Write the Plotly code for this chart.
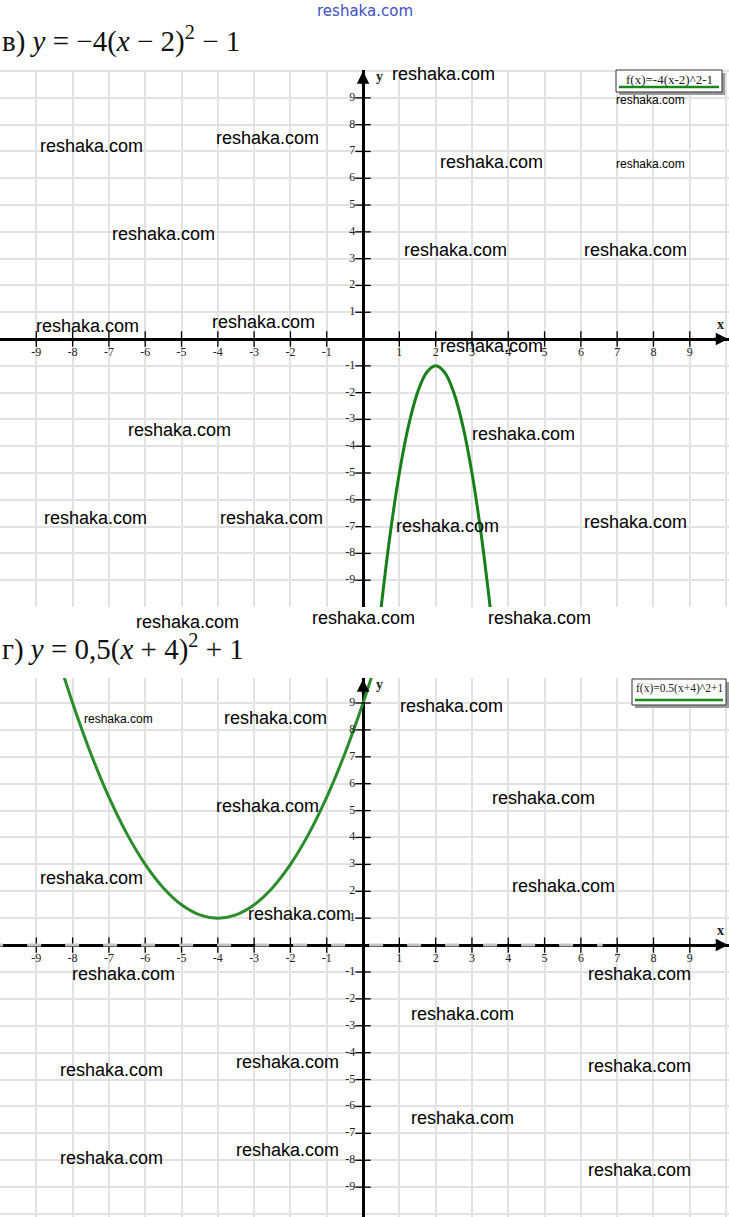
import plotly.graph_objects as go

W, H = 729, 1217

# в) y = -4(x-2)^2 - 1  (points read off the drawn curve)
top_x = [0.4, 0.5, 0.75, 1.0, 1.25, 1.5, 1.75, 2.0, 2.25, 2.5, 2.75, 3.0, 3.25, 3.5, 3.6]
top_y = [-11.24, -10.0, -7.25, -5.0, -3.25, -2.0, -1.25, -1.0, -1.25, -2.0, -3.25, -5.0, -7.25, -10.0, -11.24]

# г) y = 0.5(x+4)^2 + 1
bot_x = [-8.3, -8, -7.5, -7, -6.5, -6, -5.5, -5, -4.5, -4, -3.5, -3, -2.5, -2, -1.5, -1, -0.5, 0, 0.3]
bot_y = [10.25, 9, 7.125, 5.5, 4.125, 3, 2.125, 1.5, 1.125, 1, 1.125, 1.5, 2.125, 3, 4.125, 5.5, 7.125, 9, 10.25]

tick_vals = [-9, -8, -7, -6, -5, -4, -3, -2, -1, 1, 2, 3, 4, 5, 6, 7, 8, 9]
tick_text = [str(v) for v in tick_vals]

titles = ["в) <i>y</i> = −4(<i>x</i> − 2)<sup>2</sup> − 1",
          "г) <i>y</i> = 0,5(<i>x</i> + 4)<sup>2</sup> + 1"]
legend_text = ["f(x)=-4(x-2)^2-1", "f(x)=0.5(x+4)^2+1"]

# watermark positions in pixels (x, y, font size)
marks = [
    (443, 74, 18), (91, 146, 18), (267, 138, 18), (491, 162, 18), (650, 100, 12), (650, 164, 12),
    (163, 234, 18), (455, 250, 18), (635, 250, 18), (87, 326, 18), (263, 322, 18), (491, 346, 18),
    (179, 430, 18), (523, 434, 18), (95, 518, 18), (271, 518, 18), (447, 526, 18), (635, 522, 18),
    (187, 622, 18), (363, 618, 18), (539, 618, 18),
    (118, 719, 12), (275, 718, 18), (451, 706, 18), (267, 806, 18), (543, 798, 18), (91, 878, 18),
    (299, 914, 18), (563, 886, 18), (123, 974, 18), (639, 974, 18), (463, 1014, 18), (287, 1062, 18),
    (111, 1070, 18), (639, 1066, 18), (463, 1118, 18), (287, 1150, 18), (111, 1158, 18), (639, 1170, 18),
]


def px(x, y):
    return x / W, 1 - y / H


GREEN = "#1c861c"
SERIF = "Liberation Serif, Times New Roman, serif"
SANS = "Liberation Sans, Arial, sans-serif"

# panel boxes in pixels: top, bottom
panels = [(70, 607), (678, 1217)]
yranges = [[-10.0, 10.04], [-10.11, 9.93]]
xrange_ = [-10.0, 10.08]

fig = go.Figure()

curves = [(top_x, top_y, "#17801a"), (bot_x, bot_y, "#2a8c2a")]
for i, (cx, cy, col) in enumerate(curves):
    xa = "x" if i == 0 else "x2"
    ya = "y" if i == 0 else "y2"
    fig.add_trace(go.Scatter(x=cx, y=cy, mode="lines", line=dict(color=col, width=3, shape="spline"),
                             xaxis=xa, yaxis=ya, hoverinfo="skip"))
    # axis ticks + labels
    fig.add_trace(go.Scatter(x=tick_vals, y=[0] * len(tick_vals), mode="markers+text", text=tick_text,
                             textposition="bottom center", textfont=dict(family=SERIF, size=12, color="#222"),
                             marker=dict(symbol="line-ns", size=11, line=dict(width=1.3, color="black")),
                             xaxis=xa, yaxis=ya, hoverinfo="skip"))
    fig.add_trace(go.Scatter(x=[0] * len(tick_vals), y=tick_vals, mode="markers+text", text=tick_text,
                             textposition="middle left", textfont=dict(family=SERIF, size=12, color="#222"),
                             marker=dict(symbol="line-ew", size=11, line=dict(width=1.3, color="black")),
                             xaxis=xa, yaxis=ya, hoverinfo="skip"))

axis_common = dict(showgrid=True, gridcolor="#e2e2e2", gridwidth=1.5, dtick=1, tick0=0,
                   zeroline=True, zerolinecolor="black", zerolinewidth=2.5,
                   showticklabels=False, ticks="", showline=False, fixedrange=True)

layout = dict(width=W, height=H, margin=dict(l=0, r=0, t=0, b=0), showlegend=False,
              plot_bgcolor="white", paper_bgcolor="white")
for i, (top, bot) in enumerate(panels):
    sfx = "" if i == 0 else "2"
    layout["xaxis" + sfx] = dict(domain=[0, 1], range=xrange_, anchor="y" + sfx, **axis_common)
    layout["yaxis" + sfx] = dict(domain=[1 - bot / H, 1 - top / H], range=yranges[i], anchor="x" + sfx,
                                 **axis_common)
fig.update_layout(**layout)

# bottom panel x axis looks broken into dashes: light gaps over the black line
fig.add_shape(type="line", xref="x2", yref="y2", x0=-10.3, x1=6.6, y0=0, y1=0, layer="above",
              line=dict(color="#c4c4c4", width=3, dash="14px,24px"))

ann = []
for i in range(2):
    sfx = "" if i == 0 else "2"
    # axis arrows
    ann.append(dict(xref="x" + sfx, yref="y" + sfx, x=10.06, y=0, ax=-16, ay=0, text="",
                    showarrow=True, arrowhead=2, arrowsize=1, arrowwidth=2.5, arrowcolor="black"))
    ann.append(dict(xref="x" + sfx, yref="y" + sfx, x=0, y=yranges[i][1] - 0.05, ax=0, ay=16, text="",
                    showarrow=True, arrowhead=2, arrowsize=1, arrowwidth=2.5, arrowcolor="black"))
    ann.append(dict(xref="x" + sfx, yref="y" + sfx, x=0.45, y=yranges[i][1] - 0.25, text="<b>y</b>",
                    xanchor="center", yanchor="middle",
                    showarrow=False, font=dict(family=SERIF, size=14, color="#222")))
    ann.append(dict(xref="x" + sfx, yref="y" + sfx, x=9.85, y=0.55, text="<b>x</b>",
                    xanchor="center", yanchor="middle",
                    showarrow=False, font=dict(family=SERIF, size=14, color="#222")))
    # title
    tx, ty = px(0, 40 if i == 0 else 647)
    ann.append(dict(xref="paper", yref="paper", x=tx, y=ty, xanchor="left", yanchor="middle",
                    text=titles[i], showarrow=False, font=dict(family=SERIF, size=29, color="#111")))

# legend boxes
leg_boxes = [(616, 70, 722, 92), (632, 679, 726, 705)]
leg_sizes = [13, 11.5]
for i, (x0, y0, x1, y1) in enumerate(leg_boxes):
    fig.add_shape(type="rect", xref="paper", yref="paper", x0=(x0 + 3) / W, x1=(x1 + 3) / W,
                  y0=1 - (y1 + 3) / H, y1=1 - (y0 + 3) / H, line=dict(width=0), fillcolor="#9a9a9a")
    fig.add_shape(type="rect", xref="paper", yref="paper", x0=x0 / W, x1=x1 / W,
                  y0=1 - y1 / H, y1=1 - y0 / H, line=dict(width=1, color="#333"), fillcolor="white")
    fig.add_shape(type="line", xref="paper", yref="paper", x0=(x0 + 3) / W, x1=(x1 - 3) / W,
                  y0=1 - (y1 - 5) / H, y1=1 - (y1 - 5) / H, line=dict(width=2.5, color=GREEN))
    cx, cy = px((x0 + x1) / 2, y0 + 9)
    ann.append(dict(xref="paper", yref="paper", x=cx, y=cy, text=legend_text[i], showarrow=False,
                    xanchor="center", yanchor="middle",
                    font=dict(family=SERIF, size=leg_sizes[i], color="#222")))

# watermarks
for (mx, my, ms) in marks:
    x, y = px(mx, my)
    ann.append(dict(xref="paper", yref="paper", x=x, y=y, text="reshaka.com", showarrow=False,
                    xanchor="center", yanchor="middle",
                    font=dict(family=SANS, size=ms, color="black")))
x, y = px(365, 11)
ann.append(dict(xref="paper", yref="paper", x=x, y=y, text="reshaka.com", showarrow=False,
                xanchor="center", yanchor="middle",
                font=dict(family="DejaVu Sans", size=15, color="#3d4fc6")))

fig.update_layout(annotations=ann)
fig.write_html("out.html", config={"displayModeBar": False},
               post_script="document.body.style.margin='0';")
